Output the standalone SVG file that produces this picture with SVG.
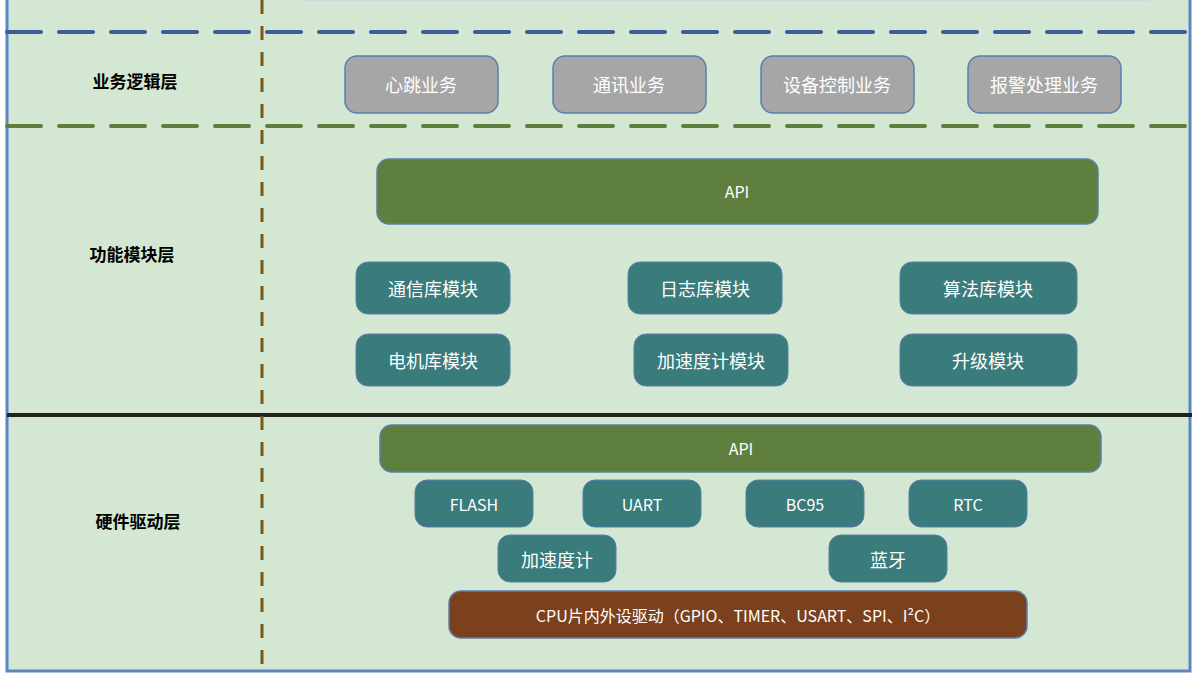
<svg xmlns="http://www.w3.org/2000/svg" width="1200" height="675" viewBox="0 0 1200 675">
<style>
text{font-family:"Noto Sans CJK SC","Open Sans",sans-serif;text-anchor:middle;dominant-baseline:central}
.lbl{font-size:17px;font-weight:bold;fill:#000}
.g{fill:#a6a6a6;stroke:#5a7fae;stroke-width:1.5}
.api{fill:#5f7f3e;stroke:#5a7fae;stroke-width:1.5}
.t{fill:#3a7b7b;stroke:#5a7fae;stroke-width:1}
.c{fill:#7b401c;stroke:#5a7fae;stroke-width:1.5}
.w{fill:#fff;font-size:18px}
.s{fill:#fff;font-size:16px}
</style>
<rect x="0" y="0" width="1200" height="675" fill="#fff"/>
<rect x="7" y="-5" width="1183" height="676" fill="#d3e7d2" stroke="#5b87c0" stroke-width="3"/>
<rect x="290" y="-40" width="870" height="40" rx="10" fill="#dfe9df" stroke="#c5d5e5"/>
<g id="lines">
<line x1="7" y1="32" x2="1190" y2="32" stroke="#3d5c9c" stroke-width="4" stroke-dasharray="34,18" stroke-linecap="round"/>
<line x1="7" y1="126" x2="1190" y2="126" stroke="#5e7f3c" stroke-width="4" stroke-dasharray="34,18" stroke-linecap="round"/>
<line x1="7" y1="415" x2="1192" y2="415" stroke="#222" stroke-width="4"/>
<line x1="262" y1="0" x2="262" y2="675" stroke="#7a5a18" stroke-width="3" stroke-dasharray="14,12"/>
</g>
<text class="lbl" x="135" y="80">业务逻辑层</text>
<text class="lbl" x="132" y="253">功能模块层</text>
<text class="lbl" x="138" y="520">硬件驱动层</text>
<g id="n1"><rect class="g" x="345" y="56" width="153" height="57" rx="12"/><text class="w" x="421" y="84">心跳业务</text></g>
<g id="n2"><rect class="g" x="553" y="56" width="153" height="57" rx="12"/><text class="w" x="629" y="84">通讯业务</text></g>
<g id="n3"><rect class="g" x="761" y="56" width="153" height="57" rx="12"/><text class="w" x="837" y="84">设备控制业务</text></g>
<g id="n4"><rect class="g" x="968" y="56" width="153" height="57" rx="12"/><text class="w" x="1044" y="84">报警处理业务</text></g>
<g id="api1"><rect class="api" x="377" y="159" width="721" height="65" rx="12"/><text class="s" x="737" y="191">API</text></g>
<g id="m1"><rect class="t" x="356" y="262" width="154" height="52" rx="12"/><text class="w" x="433" y="288">通信库模块</text></g>
<g id="m2"><rect class="t" x="628" y="262" width="154" height="52" rx="12"/><text class="w" x="705" y="288">日志库模块</text></g>
<g id="m3"><rect class="t" x="900" y="262" width="177" height="52" rx="12"/><text class="w" x="988" y="288">算法库模块</text></g>
<g id="m4"><rect class="t" x="356" y="334" width="154" height="52" rx="12"/><text class="w" x="433" y="360">电机库模块</text></g>
<g id="m5"><rect class="t" x="634" y="334" width="154" height="52" rx="12"/><text class="w" x="711" y="360">加速度计模块</text></g>
<g id="m6"><rect class="t" x="900" y="334" width="177" height="52" rx="12"/><text class="w" x="988" y="360">升级模块</text></g>
<g id="api2"><rect class="api" x="380" y="425" width="721" height="47" rx="12"/><text class="s" x="741" y="448">API</text></g>
<g id="h1"><rect class="t" x="415" y="480" width="118" height="47" rx="12"/><text class="s" x="474" y="504">FLASH</text></g>
<g id="h2"><rect class="t" x="583" y="480" width="118" height="47" rx="12"/><text class="s" x="642" y="504">UART</text></g>
<g id="h3"><rect class="t" x="746" y="480" width="118" height="47" rx="12"/><text class="s" x="805" y="504">BC95</text></g>
<g id="h4"><rect class="t" x="909" y="480" width="118" height="47" rx="12"/><text class="s" x="968" y="504">RTC</text></g>
<g id="h5"><rect class="t" x="498" y="535" width="118" height="47" rx="12"/><text class="w" x="557" y="559">加速度计</text></g>
<g id="h6"><rect class="t" x="829" y="535" width="118" height="47" rx="12"/><text class="w" x="888" y="559">蓝牙</text></g>
<g id="cpu"><rect class="c" x="449" y="591" width="578" height="47" rx="12"/><text class="s" x="738" y="615">CPU片内外设驱动（GPIO、TIMER、USART、SPI、I²C）</text></g>
</svg>
